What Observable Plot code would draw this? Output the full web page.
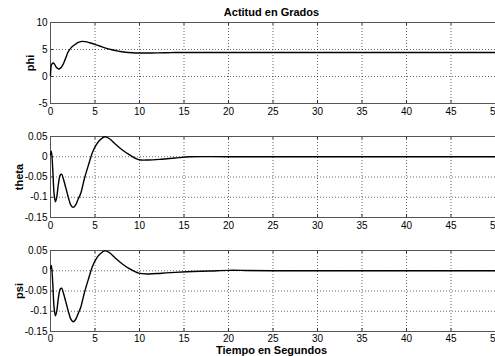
<!DOCTYPE html>
<html><head><meta charset="utf-8">
<script src="https://cdn.jsdelivr.net/npm/d3@7"></script>
<script src="https://cdn.jsdelivr.net/npm/@observablehq/plot@0.6"></script>
<style>
body{margin:0;background:#fff;}
#wrap{position:relative;width:495px;height:356px;overflow:hidden;background:#fff;font-family:"Liberation Sans",Arial,sans-serif;}
.lbl{position:absolute;font-weight:bold;font-size:11px;line-height:11px;white-space:nowrap;transform:translateX(-50%);color:#000;}
.pn{position:absolute;left:0;}
</style></head>
<body>
<div id="wrap">
  <div class="lbl" id="title" style="left:271.5px;top:7px;"></div>
  <div class="lbl" id="xlab" style="left:271.5px;top:344.5px;"></div>
</div>
<script>
const titleText = "Actitud en Grados";
const xLabelText = "Tiempo en Segundos";
const xTicks = [0,5,10,15,20,25,30,35,40,45,50];
const phiTicks = [-5,0,5,10];
const angTicks = [-0.15,-0.1,-0.05,0,0.05];

const tPhi = [0,0.08,0.15,0.3,0.45,0.65,0.9,1.15,1.4,1.7,2.0,2.3,2.6,2.9,3.2,3.55,3.9,4.4,5.0,5.6,6.2,6.9,7.6,8.4,9.2,10,11,12,13.5,15,20,30,40,50];
const phi  = [0.2,2.0,2.3,2.5,2.3,1.7,1.4,1.6,2.2,3.4,4.6,5.3,5.75,6.1,6.35,6.5,6.45,6.25,5.95,5.6,5.25,4.95,4.7,4.5,4.4,4.35,4.35,4.38,4.42,4.45,4.45,4.45,4.45,4.45];

const tTheta = [0,0.1,0.25,0.4,0.55,0.7,0.9,1.1,1.25,1.45,1.7,2.0,2.3,2.55,2.8,3.1,3.4,3.8,4.3,4.7,5.1,5.5,6.1,6.6,7.3,8.0,8.8,9.9,11,12.5,14,15.7,20,30,40,50];
const theta  = [0.005,0.014,-0.03,-0.09,-0.111,-0.1,-0.065,-0.045,-0.043,-0.055,-0.075,-0.1,-0.12,-0.125,-0.12,-0.105,-0.09,-0.055,-0.018,0.01,0.028,0.04,0.0495,0.045,0.031,0.018,0.006,-0.007,-0.008,-0.006,-0.003,0,0,0,0,0];

const tPsi = [0,0.1,0.25,0.4,0.55,0.7,0.9,1.1,1.25,1.45,1.7,2.0,2.3,2.55,2.8,3.1,3.4,3.8,4.3,4.7,5.1,5.5,6.1,6.6,7.3,8.0,8.8,9.9,11,12.5,14,16,18,20,22,25,30,40,50];
const psi  = [0.005,0.013,-0.03,-0.09,-0.111,-0.1,-0.065,-0.045,-0.043,-0.055,-0.075,-0.1,-0.12,-0.126,-0.121,-0.106,-0.09,-0.055,-0.018,0.01,0.028,0.04,0.049,0.045,0.031,0.018,0.006,-0.006,-0.008,-0.006,-0.004,-0.002,-0.0005,0.001,0.0008,0,0,0,0];

document.getElementById("title").textContent = titleText;
document.getElementById("xlab").textContent = xLabelText;

const FONT = '"Liberation Sans", Arial, sans-serif';
const fmt = d => String(d);

function panel(t, v, yDomain, yTicks, label, labelDx, top, pad) {
  const H = 81, mt = 10, mb = 20, ml = 50, W = 445;
  const data = t.map((d, i) => ({t: d, v: v[i]}));
  const grid = {stroke: "#000", strokeOpacity: 0.6, strokeDasharray: "1,2", strokeWidth: 1};
  const svg = Plot.plot({
    width: 495, height: mt + H + mb,
    marginTop: mt, marginBottom: mb, marginLeft: ml, marginRight: 0,
    style: {fontFamily: FONT, fontSize: "10px", color: "#000", background: "transparent"},
    x: {domain: [0, 50], ticks: xTicks, tickSize: 0, tickPadding: pad, tickFormat: fmt, label: null},
    y: {domain: yDomain, ticks: yTicks, tickSize: 0, tickPadding: 3, tickFormat: fmt, label: null},
    marks: [
      Plot.gridX(xTicks, grid),
      Plot.gridY(yTicks, grid),
      Plot.tickX(xTicks, {x: d => d, insetTop: H - 3, stroke: "#333"}),
      Plot.tickX(xTicks, {x: d => d, insetBottom: H - 3, stroke: "#333"}),
      Plot.tickY(yTicks, {y: d => d, insetRight: W - 3, stroke: "#333"}),
      Plot.frame({stroke: "#555"}),
      Plot.line(data, {x: "t", y: "v", stroke: "#000", strokeWidth: 1.4, curve: "catmull-rom"}),
      Plot.text([label], {text: d => d, frameAnchor: "left", textAnchor: "middle", lineAnchor: "middle",
        dx: -labelDx, rotate: -90, fontWeight: "bold", fontSize: 11, fill: "#000"})
    ]
  });
  svg.classList.add("pn");
  svg.style.top = top + "px";
  document.getElementById("wrap").appendChild(svg);
}

panel(tPhi, phi, [-5, 10], phiTicks, "phi", 20, 12, 4);
panel(tTheta, theta, [-0.15, 0.05], angTicks, "theta", 31, 126, 4);
panel(tPsi, psi, [-0.15, 0.05], angTicks, "psi", 31, 240, 3);
</script>
</body></html>
